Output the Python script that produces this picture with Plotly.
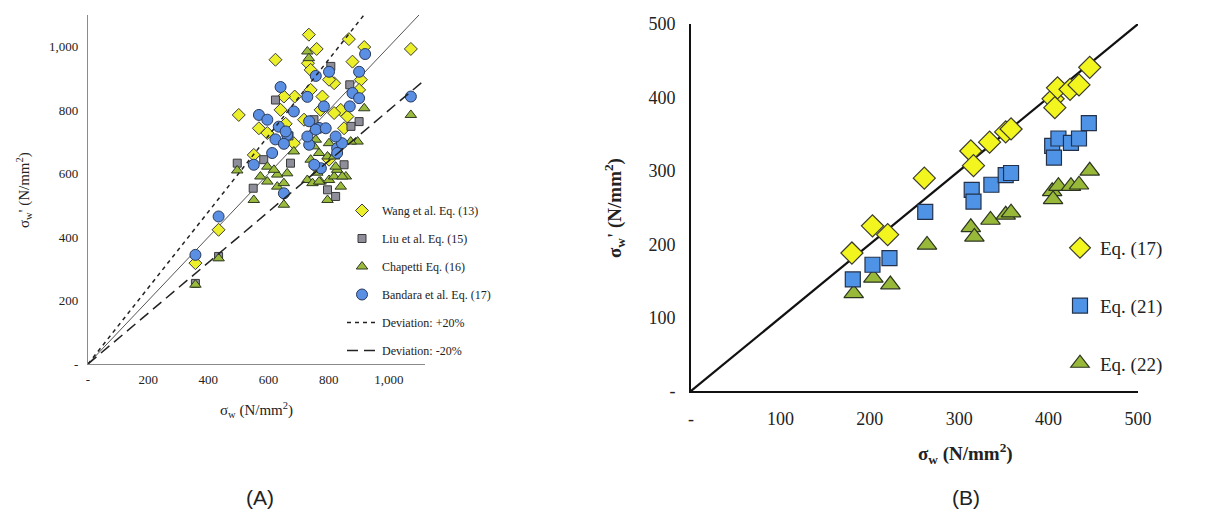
import plotly.graph_objects as go

# ---------------- Panel A data ----------------
wang_x = [734, 760, 867, 918, 1073, 623, 879, 731, 501, 640, 687, 651, 740, 779, 840, 907, 901, 568, 551, 434, 357,
          740, 818, 818, 851, 657, 684, 596, 757, 801, 862, 718, 773, 801]
wang_y = [1038, 993, 1024, 999, 993, 959, 953, 948, 785, 801, 843, 843, 864, 843, 801, 896, 864, 743, 659, 423, 318,
          927, 885, 791, 743, 757, 696, 728, 622, 644, 780, 770, 801, 896]

liu_x = [496, 549, 623, 668, 796, 901, 870, 434, 357, 807, 874, 673, 584, 751, 851, 823]
liu_y = [633, 554, 832, 719, 549, 764, 880, 339, 254, 938, 749, 633, 644, 770, 628, 528]

chap_x = [729, 734, 918, 1073, 896, 873, 551, 651, 796, 496, 357, 434, 573, 596, 629, 662, 684, 729, 746, 773,
          801, 818, 857, 840, 740, 768, 796, 818, 757, 751, 801, 828, 762, 629, 651, 823, 845, 768, 596, 618]
chap_y = [985, 964, 806, 785, 701, 701, 517, 502, 517, 610, 250, 333, 591, 575, 597, 601, 670, 580, 570, 575,
          580, 591, 591, 559, 644, 665, 654, 654, 707, 686, 696, 612, 603, 559, 570, 622, 591, 575, 622, 612]

band_x = [921, 901, 757, 801, 640, 729, 784, 568, 596, 634, 684, 662, 623, 651, 612, 551, 651, 434, 357, 735,
          768, 757, 735, 774, 752, 828, 844, 870, 879, 901, 1073, 790, 823, 828, 657, 729]
band_y = [977, 921, 908, 921, 873, 842, 812, 785, 770, 748, 796, 722, 708, 694, 665, 628, 538, 465, 344, 765,
          744, 739, 691, 617, 628, 680, 696, 812, 854, 838, 843, 743, 717, 665, 733, 717]

ref_a_x = [0, 1100]
ref_a_y = [0, 1100]
plus20_x = [0, 917]
plus20_y = [0, 1100]
minus20_x = [0, 1120]
minus20_y = [0, 896]

ticks_a = [0, 200, 400, 600, 800, 1000]
ticktext_a = ["-", "200", "400", "600", "800", "1,000"]

# ---------------- Panel B data ----------------
eq17_x = [180, 203, 220, 261, 313, 316, 334, 352, 358, 405, 407, 410, 424, 434, 446]
eq17_y = [188, 225, 213, 290, 327, 307, 339, 353, 357, 398, 386, 413, 411, 417, 441]
eq21_x = [181, 203, 222, 262, 314, 316, 336, 352, 358, 404, 406, 411, 425, 434, 445]
eq21_y = [152, 172, 181, 244, 274, 258, 281, 294, 297, 334, 318, 344, 338, 344, 365]
eq22_x = [182, 204, 223, 264, 313, 317, 335, 352, 358, 404, 405, 411, 425, 434, 446]
eq22_y = [133, 154, 145, 199, 223, 210, 233, 240, 243, 272, 261, 279, 279, 281, 300]
ref_b_x = [0, 500]
ref_b_y = [0, 500]

ticks_b = [0, 100, 200, 300, 400, 500]
ticktext_b = ["-", "100", "200", "300", "400", "500"]

SERIF = "Liberation Serif, Times New Roman, Times, serif"
SANS = "Liberation Sans, Arial, sans-serif"
W, H = 1220, 523
OFF = 8  # page body offset


def px(x):
    return (x - OFF) / W


def py(y):
    return 1 - (y - OFF) / H


fig = go.Figure()

# Panel A traces
fig.add_trace(go.Scatter(x=ref_a_x, y=ref_a_y, mode="lines", line=dict(color="#555555", width=1),
                         showlegend=False, xaxis="x", yaxis="y", hoverinfo="skip"))
fig.add_trace(go.Scatter(x=wang_x, y=wang_y, mode="markers", name="Wang et al. Eq. (13)",
                         marker=dict(symbol="diamond", size=10, color="#ecf02a", line=dict(color="#3a3a3a", width=1)),
                         xaxis="x", yaxis="y", legend="legend", legendgroup="a1", legendrank=1))
fig.add_trace(go.Scatter(x=liu_x, y=liu_y, mode="markers", name="Liu et al. Eq. (15)",
                         marker=dict(symbol="square", size=8, color="#8e8e9a", line=dict(color="#3a3a3a", width=1)),
                         xaxis="x", yaxis="y", legend="legend", legendgroup="a2", legendrank=2))
fig.add_trace(go.Scatter(x=chap_x, y=chap_y, mode="markers", name="Chapetti Eq. (16)",
                         marker=dict(symbol="triangle-up", size=10, color="#9bbb3c", line=dict(color="#2e3a20", width=1)),
                         xaxis="x", yaxis="y", legend="legend", legendgroup="a3", legendrank=3))
fig.add_trace(go.Scatter(x=band_x, y=band_y, mode="markers", name="Bandara et al. Eq. (17)",
                         marker=dict(symbol="circle", size=11, color="#5b8fe3", line=dict(color="#2a3a5a", width=1)),
                         xaxis="x", yaxis="y", legend="legend", legendgroup="a4", legendrank=4))
fig.add_trace(go.Scatter(x=plus20_x, y=plus20_y, mode="lines", name="Deviation: +20%",
                         line=dict(color="#222222", width=1.5, dash="4px,4px"),
                         xaxis="x", yaxis="y", legend="legend", legendgroup="a5", legendrank=5))
fig.add_trace(go.Scatter(x=minus20_x, y=minus20_y, mode="lines", name="Deviation: -20%",
                         line=dict(color="#222222", width=1.5, dash="11px,6px"),
                         xaxis="x", yaxis="y", legend="legend", legendgroup="a6", legendrank=6))

# Panel B traces
fig.add_trace(go.Scatter(x=ref_b_x, y=ref_b_y, mode="lines", line=dict(color="#111111", width=2.2),
                         showlegend=False, xaxis="x2", yaxis="y2", hoverinfo="skip"))
fig.add_trace(go.Scatter(x=eq22_x, y=eq22_y, mode="markers", name="Eq. (22)",
                         marker=dict(symbol="triangle-up", size=17, color="#98b83a", line=dict(color="#2c3520", width=1.2)),
                         xaxis="x2", yaxis="y2", legend="legend2", legendgroup="b3", legendrank=3))
fig.add_trace(go.Scatter(x=eq21_x, y=eq21_y, mode="markers", name="Eq. (21)",
                         marker=dict(symbol="square", size=15, color="#4f93e6", line=dict(color="#23324a", width=1.2)),
                         xaxis="x2", yaxis="y2", legend="legend2", legendgroup="b2", legendrank=2))
fig.add_trace(go.Scatter(x=eq17_x, y=eq17_y, mode="markers", name="Eq. (17)",
                         marker=dict(symbol="diamond", size=17, color="#f2f51e", line=dict(color="#3a3a2a", width=1.2)),
                         xaxis="x2", yaxis="y2", legend="legend2", legendgroup="b1", legendrank=1))

common = dict(showgrid=False, zeroline=False, showline=True, ticks="", automargin=False, fixedrange=True)
axA_x = dict(domain=[px(88), px(425)], range=[0, 1120], tickvals=ticks_a, ticktext=ticktext_a,
             linecolor="#8a8a8a", linewidth=1.2, tickfont=dict(family=SERIF, size=13, color="#222"),
             anchor="y", ticklabelstandoff=3, **common)
axA_y = dict(domain=[py(364), py(15)], range=[0, 1100], tickvals=ticks_a, ticktext=ticktext_a,
             linecolor="#8a8a8a", linewidth=1.2, tickfont=dict(family=SERIF, size=13, color="#222"),
             anchor="x", ticklabelstandoff=6, **common)
axB_x = dict(domain=[px(691), px(1138)], range=[0, 500], tickvals=ticks_b, ticktext=ticktext_b,
             linecolor="#111", linewidth=2, tickfont=dict(family=SERIF, size=18, color="#222"),
             anchor="y2", ticklabelstandoff=10, **common)
axB_y = dict(domain=[py(391), py(24)], range=[0, 500], tickvals=ticks_b, ticktext=ticktext_b,
             linecolor="#111", linewidth=2, tickfont=dict(family=SERIF, size=18, color="#222"),
             anchor="x2", ticklabelstandoff=10, **common)

fig.update_layout(
    width=W, height=H, margin=dict(l=0, r=0, t=0, b=0, autoexpand=False),
    paper_bgcolor="white", plot_bgcolor="white",
    font=dict(family=SERIF, color="#222"),
    xaxis=axA_x, yaxis=axA_y, xaxis2=axB_x, yaxis2=axB_y,
    legend=dict(x=px(342), y=py(196), xanchor="left", yanchor="top", bgcolor="rgba(0,0,0,0)",
                font=dict(family=SERIF, size=12, color="#222"), tracegroupgap=9, itemwidth=30,
                traceorder="grouped"),
    legend2=dict(x=px(1060), y=py(229), xanchor="left", yanchor="top", bgcolor="rgba(0,0,0,0)",
                 font=dict(family=SERIF, size=19, color="#222"), tracegroupgap=30, itemwidth=30,
                 traceorder="grouped"),
    showlegend=True,
)

ann = [
    dict(text="σ<sub>w</sub> (N/mm<sup>2</sup>)", x=px(257), y=py(410), font=dict(family=SERIF, size=15, color="#222")),
    dict(text="σ<sub>w</sub>' (N/mm<sup>2</sup>)", x=px(24), y=py(190), textangle=-90,
         font=dict(family=SERIF, size=15, color="#222")),
    dict(text="<b>σ<sub>w</sub> (N/mm<sup>2</sup>)</b>", x=px(965), y=py(453), font=dict(family=SERIF, size=19, color="#222")),
    dict(text="<b>σ<sub>w</sub>' (N/mm<sup>2</sup>)</b>", x=px(615), y=py(208), textangle=-90,
         font=dict(family=SERIF, size=19, color="#222")),
    dict(text="(A)", x=px(260), y=py(497), font=dict(family=SANS, size=21, color="#222")),
    dict(text="(B)", x=px(966), y=py(497), font=dict(family=SANS, size=21, color="#222")),
]
for a in ann:
    fig.add_annotation(xref="paper", yref="paper", showarrow=False, xanchor="center", yanchor="middle", **a)

fig.write_html("out.html")
